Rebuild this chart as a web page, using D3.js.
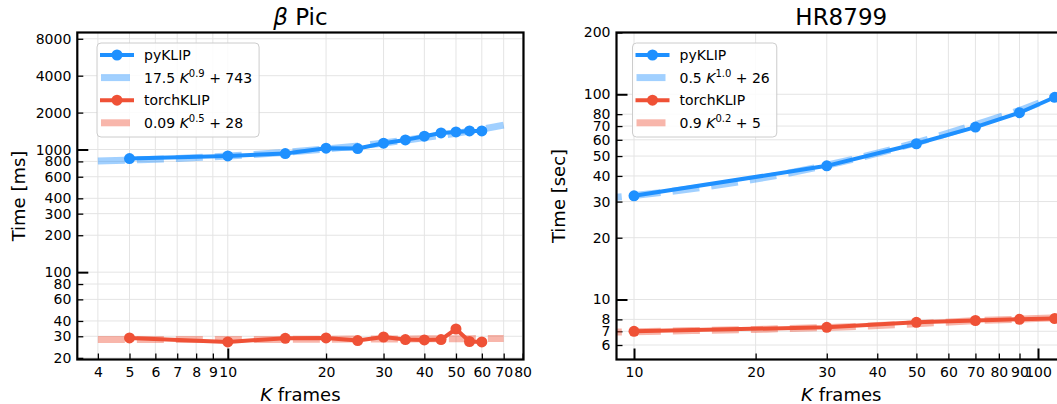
<!DOCTYPE html>
<html>
<head>
<meta charset="utf-8">
<script src="https://cdn.jsdelivr.net/npm/d3@7"></script>
<style>
  body { margin: 0; background: #fff; }
  svg { display: block; font-family: "DejaVu Sans", sans-serif; }
</style>
</head>
<body>
<svg id="chart" width="1057" height="404"></svg>
<script>
// beta Pic timings (ms)
var picK = [5, 10, 15, 20, 25, 30, 35, 40, 45, 50, 55, 60];
var picPyklip = [844, 887, 927, 1025, 1019, 1126, 1198, 1284, 1366, 1392, 1419, 1419];
var picTorch = [29.1, 27.0, 28.9, 29.1, 27.7, 29.6, 28.2, 28.0, 28.2, 34.4, 27.2, 27.0];
var picFitK = [4, 5, 7, 10, 14, 20, 28, 40, 56, 70];
var picPyFit = [805, 820, 846, 885, 935, 1010, 1105, 1250, 1420, 1580];
var picTorchFit = [28.2, 28.2, 28.2, 28.3, 28.3, 28.4, 28.5, 28.6, 28.7, 28.8];
var picXTicks = [4, 5, 6, 7, 8, 9, 10, 20, 30, 40, 50, 60, 70, 80];
var picYTicks = [20, 30, 40, 60, 80, 100, 200, 300, 400, 600, 800, 1000, 2000, 4000, 8000];

// HR8799 timings (sec)
var hrK = [10, 30, 50, 70, 90, 110];
var hrPyklip = [32.0, 44.8, 57.4, 69.2, 81.3, 96.7];
var hrTorch = [7.0, 7.32, 7.74, 7.90, 8.01, 8.08];
var hrFitK = [8, 10, 20, 30, 50, 70, 90, 110, 130];
var hrPyFit = [30.8, 32.1, 38.6, 45.1, 58.1, 71.1, 83.5, 97.1, 110];
var hrTorchFit = [6.9, 6.97, 7.15, 7.3, 7.62, 7.88, 8.02, 8.14, 8.25];
var hrXTicks = [10, 20, 30, 40, 50, 60, 70, 80, 90, 100];
var hrYTicks = [6, 7, 8, 10, 20, 30, 40, 50, 60, 70, 80, 100, 200];

// legend labels: [text, italic, superscript]
var picLabels = [
  [["pyKLIP"]],
  [["17.5 "], ["K", true], ["0.9", false, true], [" + 743"]],
  [["torchKLIP"]],
  [["0.09 "], ["K", true], ["0.5", false, true], [" + 28"]]
];
var hrLabels = [
  [["pyKLIP"]],
  [["0.5 "], ["K", true], ["1.0", false, true], [" + 26"]],
  [["torchKLIP"]],
  [["0.9 "], ["K", true], ["0.2", false, true], [" + 5"]]
];

var BLUE = '#1e90ff';
var RED = '#ef5136';

var svg = d3.select('#chart');

function isMajor(v) {
  return Math.abs(Math.log10(v) - Math.round(Math.log10(v))) < 1e-9;
}

function zip(a, b) {
  return a.map(function(v, i) { return [v, b[i]]; });
}

function addParts(text, parts) {
  parts.forEach(function(p) {
    var t = text.append('tspan').text(p[0]);
    if (p[1]) t.attr('font-style', 'italic');
    if (p[2]) t.attr('font-size', 10).attr('dy', -6);
    else if (text.attr('data-up') === '1') t.attr('dy', 6);
    text.attr('data-up', p[2] ? '1' : '0');
  });
}

function drawPanel(cfg) {
  var g = svg.append('g');
  var x = d3.scaleLog().domain(cfg.xDomain).range([cfg.left, cfg.right]);
  var y = d3.scaleLog().domain(cfg.yDomain).range([cfg.bottom, cfg.top]);

  var clipId = 'clip-' + cfg.id;
  g.append('clipPath').attr('id', clipId)
    .append('rect')
    .attr('x', cfg.left).attr('y', cfg.top)
    .attr('width', cfg.right - cfg.left).attr('height', cfg.bottom - cfg.top);

  // grid
  var grid = g.append('g').attr('stroke', '#e4e4e4').attr('stroke-width', 1);
  grid.selectAll('.gx').data(cfg.xTicks).enter().append('line')
    .attr('x1', x).attr('x2', x)
    .attr('y1', cfg.top).attr('y2', cfg.bottom);
  grid.selectAll('.gy').data(cfg.yTicks).enter().append('line')
    .attr('y1', y).attr('y2', y)
    .attr('x1', cfg.left).attr('x2', cfg.right);

  // axes, ticks pointing inward
  var xAxis = g.append('g')
    .attr('transform', 'translate(0,' + cfg.bottom + ')')
    .call(d3.axisBottom(x).tickValues(cfg.xTicks).tickFormat(d3.format('d')).tickSize(-6).tickPadding(8));
  var yAxis = g.append('g')
    .attr('transform', 'translate(' + cfg.left + ',0)')
    .call(d3.axisLeft(y).tickValues(cfg.yTicks).tickFormat(d3.format('d')).tickSize(-6).tickPadding(6));

  [xAxis, yAxis].forEach(function(ax) {
    ax.attr('font-size', 14).attr('font-family', '"DejaVu Sans", sans-serif');
    ax.select('.domain').remove();
    ax.selectAll('.tick text').attr('fill', '#000');
    ax.selectAll('.tick line').attr('stroke', '#000').attr('stroke-width', 1.3);
  });
  xAxis.selectAll('.tick line').filter(isMajor).attr('y2', -11).attr('stroke-width', 2);
  yAxis.selectAll('.tick line').filter(isMajor).attr('x2', 11).attr('stroke-width', 2);

  var line = d3.line()
    .x(function(d) { return x(d[0]); })
    .y(function(d) { return y(d[1]); });
  var smooth = d3.line()
    .x(function(d) { return x(d[0]); })
    .y(function(d) { return y(d[1]); })
    .curve(d3.curveMonotoneX);

  var plot = g.append('g').attr('clip-path', 'url(#' + clipId + ')');

  cfg.series.forEach(function(s) {
    plot.append('path')
      .datum(zip(cfg.fitK, s.fit))
      .attr('d', smooth)
      .attr('fill', 'none')
      .attr('stroke', s.color)
      .attr('stroke-opacity', 0.42)
      .attr('stroke-width', 7)
      .attr('stroke-dasharray', '27,12');
  });

  cfg.series.forEach(function(s) {
    var pts = zip(cfg.k, s.values);
    plot.append('path')
      .datum(pts)
      .attr('d', line)
      .attr('fill', 'none')
      .attr('stroke', s.color)
      .attr('stroke-width', 4)
      .attr('stroke-linejoin', 'round');
    plot.selectAll(null).data(pts).enter().append('circle')
      .attr('cx', function(d) { return x(d[0]); })
      .attr('cy', function(d) { return y(d[1]); })
      .attr('r', 5.5)
      .attr('fill', s.color);
  });

  // spines
  g.append('rect')
    .attr('x', cfg.left).attr('y', cfg.top)
    .attr('width', cfg.right - cfg.left).attr('height', cfg.bottom - cfg.top)
    .attr('fill', 'none')
    .attr('stroke', '#000')
    .attr('stroke-width', 2.2);

  // legend
  var lx = cfg.legendX, ly = 43;
  var leg = g.append('g');
  var box = leg.append('rect')
    .attr('x', lx).attr('y', ly)
    .attr('height', 94).attr('rx', 4)
    .attr('fill', '#fff').attr('fill-opacity', 0.85)
    .attr('stroke', '#cccccc').attr('stroke-width', 1);
  var maxW = 0;
  cfg.labels.forEach(function(parts, i) {
    var cy = 55 + i * 22.6;
    var s = cfg.series[Math.floor(i / 2)];
    if (i % 2 === 0) {
      leg.append('line')
        .attr('x1', lx + 3).attr('x2', lx + 37)
        .attr('y1', cy).attr('y2', cy)
        .attr('stroke', s.color).attr('stroke-width', 4);
      leg.append('circle')
        .attr('cx', lx + 20).attr('cy', cy).attr('r', 5.5)
        .attr('fill', s.color);
    } else {
      leg.append('line')
        .attr('x1', lx + 4).attr('x2', lx + 33)
        .attr('y1', cy).attr('y2', cy)
        .attr('stroke', s.color).attr('stroke-opacity', 0.42)
        .attr('stroke-width', 7);
    }
    var t = leg.append('text')
      .attr('x', lx + 47).attr('y', cy + 5)
      .attr('font-size', 14);
    addParts(t, parts);
    maxW = Math.max(maxW, t.node().getComputedTextLength());
  });
  box.attr('width', 47 + maxW + 7);

  var cx = (cfg.left + cfg.right) / 2;
  var title = g.append('text')
    .attr('x', cx).attr('y', 25)
    .attr('text-anchor', 'middle')
    .attr('font-size', 23);
  addParts(title, cfg.title);

  var xl = g.append('text')
    .attr('x', cx).attr('y', 401)
    .attr('text-anchor', 'middle')
    .attr('font-size', 18);
  addParts(xl, [["K", true], [" frames"]]);

  g.append('text')
    .attr('transform', 'translate(' + (cfg.left - 52) + ',' + ((cfg.top + cfg.bottom) / 2) + ') rotate(-90)')
    .attr('text-anchor', 'middle')
    .attr('font-size', 18)
    .text(cfg.yLabel);
}

drawPanel({
  id: 'pic',
  left: 77.3, right: 523.5, top: 32.5, bottom: 359.5,
  xDomain: [3.46, 80.5], yDomain: [19.4, 9000],
  xTicks: picXTicks, yTicks: picYTicks,
  k: picK, fitK: picFitK,
  series: [
    {color: BLUE, values: picPyklip, fit: picPyFit},
    {color: RED, values: picTorch, fit: picTorchFit}
  ],
  labels: picLabels,
  legendX: 97,
  title: [["β", true], [" Pic"]],
  yLabel: 'Time [ms]'
});

drawPanel({
  id: 'hr',
  left: 616.5, right: 1066, top: 32.5, bottom: 359.5,
  xDomain: [9.05, 117.3], yDomain: [5.1, 200],
  xTicks: hrXTicks, yTicks: hrYTicks,
  k: hrK, fitK: hrFitK,
  series: [
    {color: BLUE, values: hrPyklip, fit: hrPyFit},
    {color: RED, values: hrTorch, fit: hrTorchFit}
  ],
  labels: hrLabels,
  legendX: 632.5,
  title: [["HR8799"]],
  yLabel: 'Time [sec]'
});
</script>
</body>
</html>
